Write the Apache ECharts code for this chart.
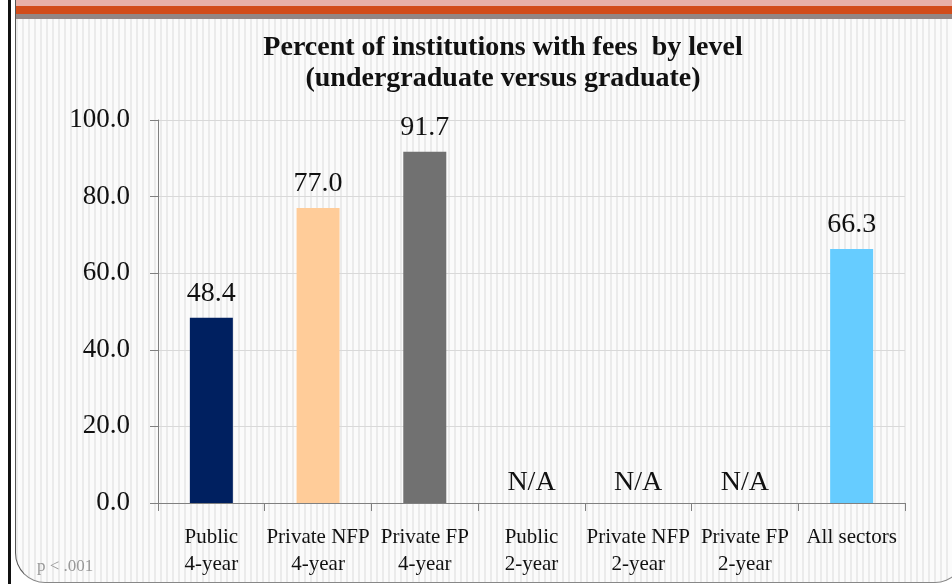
<!DOCTYPE html>
<html>
<head>
<meta charset="utf-8">
<script src="https://cdn.jsdelivr.net/npm/echarts@6/dist/echarts.min.js"></script>
<style>
  html, body { margin: 0; padding: 0; width: 952px; height: 584px; overflow: hidden; background: #fff; }
  .bar_black { position: absolute; left: 8px; top: 0; width: 3px; height: 584px; background: #111; }
  .frame {
    position: absolute; left: 15px; top: 0; width: 948px; height: 582px;
    border-left: 1px solid #555; border-bottom: 1px solid #888; border-right: 1px solid #555;
    border-bottom-left-radius: 30px; border-bottom-right-radius: 30px;
    background: repeating-linear-gradient(90deg, #ebebeb 0px, #ebebeb 2px, #fbfbfb 2px, #fbfbfb 6px);
    overflow: hidden;
  }
  .band_pink { position: absolute; left: 0; top: 0; width: 100%; height: 6px; background: #e8b0a8; }
  .band_orange { position: absolute; left: 0; top: 6px; width: 100%; height: 8px; background: #d24c1a; }
  .band_gray { position: absolute; left: 0; top: 14px; width: 100%; height: 5px; background: #938684; }
  .chart_box { position: absolute; left: 0; top: 0; width: 952px; height: 584px; }
</style>
</head>
<body>
<div class="bar_black"></div>
<div class="frame">
  <div class="band_pink"></div>
  <div class="band_orange"></div>
  <div class="band_gray"></div>
</div>
<div class="chart_box" id="chart_box"></div>
<script>
// 数据
var categories = ['Public\n4-year', 'Private NFP\n4-year', 'Private FP\n4-year', 'Public\n2-year', 'Private NFP\n2-year', 'Private FP\n2-year', 'All sectors']
var values = [48.4, 77.0, 91.7, null, null, null, 66.3]
var barColors = ['#002060', '#ffcc99', '#717171', '#999999', '#999999', '#999999', '#66ccff']
var yTicks = [0, 20, 40, 60, 80, 100]

var serif = '"Liberation Serif", "DejaVu Serif", serif'

// N/A 的类别画成 0 高度, 标签显示 N/A
var seriesData = values.map(function (v, i) {
  if (v === null) {
    return { value: 0, itemStyle: { color: 'transparent' }, label: { formatter: 'N/A', distance: 6 } }
  }
  return { value: v, itemStyle: { color: barColors[i] } }
})

var chartInstance = echarts.init(document.getElementById('chart_box'))
var option = {
  backgroundColor: 'transparent',
  animation: false,
  title: {
    text: 'Percent of institutions with fees  by level\n(undergraduate versus graduate)',
    left: 498,
    top: 27,
    textAlign: 'center',
    textStyle: {
      fontFamily: serif,
      fontSize: 28,
      fontWeight: 'bold',
      color: '#111',
      lineHeight: 31,
    },
  },
  grid: {
    left: 158,
    right: 47,
    top: 120,
    bottom: 81,
    containLabel: false,
  },
  xAxis: {
    type: 'category',
    data: categories,
    axisLine: { lineStyle: { color: '#808080', width: 1 } },
    axisTick: { show: true, length: 8, alignWithLabel: false, lineStyle: { color: '#808080' } },
    axisLabel: {
      interval: 0,
      margin: 21,
      fontFamily: serif,
      fontSize: 21,
      lineHeight: 27,
      color: '#111',
      verticalAlign: 'top',
    },
  },
  yAxis: {
    type: 'value',
    min: yTicks[0],
    max: yTicks[yTicks.length - 1],
    interval: 20,
    axisLine: { show: true, lineStyle: { color: '#808080' } },
    axisTick: { show: true, length: 8, lineStyle: { color: '#808080' } },
    splitLine: { lineStyle: { type: 'solid', color: '#d9d9d9' } },
    axisLabel: {
      margin: 28,
      fontFamily: serif,
      fontSize: 27,
      color: '#111',
      formatter: function (v) { return v.toFixed(1) },
    },
  },
  series: [
    {
      type: 'bar',
      data: seriesData,
      barWidth: 43,
      label: {
        show: true,
        position: 'top',
        distance: 10,
        fontFamily: serif,
        fontSize: 28,
        color: '#111',
        formatter: function (p) { return p.value.toFixed(1) },
      },
    },
  ],
  graphic: [
    {
      type: 'text',
      left: 37,
      top: 558,
      style: { text: 'p < .001', font: '17px ' + serif, fill: '#999' },
    },
  ],
}
chartInstance.setOption(option)
</script>
</body>
</html>
